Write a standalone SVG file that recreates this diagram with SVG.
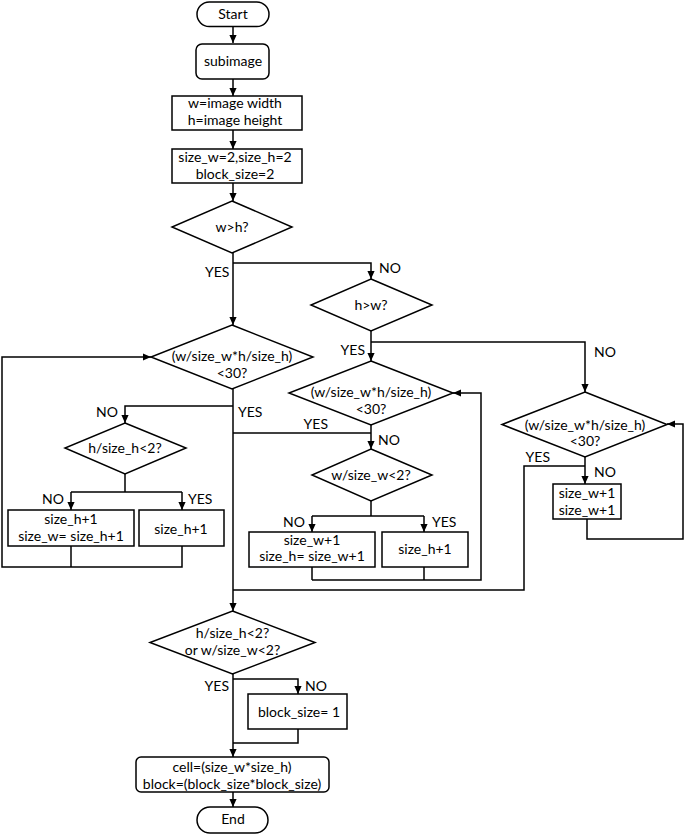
<svg xmlns="http://www.w3.org/2000/svg" width="685" height="834" viewBox="0 0 685 834">
<style>
.s{fill:#fff;stroke:#000;stroke-width:1.5}
.c{fill:none;stroke:#000;stroke-width:1.5}
text{font-family:Lato,"Liberation Sans",sans-serif;font-size:14px;fill:#000}
.m{text-anchor:middle}
.e{text-anchor:end}
</style>
<defs>
<marker id="ah" viewBox="0 0 10 10" refX="10" refY="5" markerWidth="8" markerHeight="8" markerUnits="userSpaceOnUse" orient="auto"><path d="M0,0.5 L10,5 L0,9.5 z" fill="#000"/></marker>
</defs>
<rect width="685" height="834" fill="#fff"/>
<g id="connectors">
<path class="c" d="M233,26 V43" marker-end="url(#ah)"/>
<path class="c" d="M233,79 V96" marker-end="url(#ah)"/>
<path class="c" d="M233,130 V149" marker-end="url(#ah)"/>
<path class="c" d="M233,183 V201" marker-end="url(#ah)"/>
<path class="c" d="M233,253 V325" marker-end="url(#ah)"/>
<path class="c" d="M233,263 H371 V279" marker-end="url(#ah)"/>
<path class="c" d="M371,330 V361" marker-end="url(#ah)"/>
<path class="c" d="M371,342 H585 V392" marker-end="url(#ah)"/>
<path class="c" d="M233,389 V611" marker-end="url(#ah)"/>
<path class="c" d="M233,406 H125 V423" marker-end="url(#ah)"/>
<path class="c" d="M125,474 V492 M71,492 H182"/>
<path class="c" d="M71,492 V510" marker-end="url(#ah)"/>
<path class="c" d="M182,492 V510" marker-end="url(#ah)"/>
<path class="c" d="M71,546 V567"/>
<path class="c" d="M182,546 V567 H2 V357 H151" marker-end="url(#ah)"/>
<path class="c" d="M371,433 H233"/>
<path class="c" d="M371,425 V449" marker-end="url(#ah)"/>
<path class="c" d="M371,501 V516 M312,516 H424"/>
<path class="c" d="M312,516 V532" marker-end="url(#ah)"/>
<path class="c" d="M424,516 V532" marker-end="url(#ah)"/>
<path class="c" d="M312,567 V580"/>
<path class="c" d="M424,567 V580 M312,580 H481 V393 H453" marker-end="url(#ah)"/>
<path class="c" d="M585,457 V484" marker-end="url(#ah)"/>
<path class="c" d="M585,466 H524 V590 H233"/>
<path class="c" d="M587,519 V539 H683 V424 H667" marker-end="url(#ah)"/>
<path class="c" d="M233,674 V757" marker-end="url(#ah)"/>
<path class="c" d="M233,679 H298 V694" marker-end="url(#ah)"/>
<path class="c" d="M298,729 V743 H233"/>
<path class="c" d="M233,792 V807" marker-end="url(#ah)"/>
<text x="205" y="277">YES</text>
<text x="379" y="273">NO</text>
<text x="118" y="417" class="e">NO</text>
<text x="238" y="417">YES</text>
<text x="64" y="504" class="e">NO</text>
<text x="188" y="504">YES</text>
<text x="365" y="355" class="e">YES</text>
<text x="594" y="357">NO</text>
<text x="328" y="429" class="e">YES</text>
<text x="378" y="445">NO</text>
<text x="305" y="527" class="e">NO</text>
<text x="432" y="527">YES</text>
<text x="550" y="462" class="e">YES</text>
<text x="594" y="477">NO</text>
<text x="229" y="691" class="e">YES</text>
<text x="305" y="691">NO</text>
</g>
<g id="start"><rect class="s" x="197" y="2" width="72" height="24.5" rx="12.25"/><text class="m" x="233" y="19">Start</text></g>
<g id="subimage"><rect class="s" x="196" y="44" width="73" height="35" rx="6"/><text class="m" x="233" y="66">subimage</text></g>
<g id="dims"><rect class="s" x="172" y="96" width="130" height="34"/><text class="m" x="235" y="108">w=image width</text><text class="m" x="235" y="125">h=image height</text></g>
<g id="init"><rect class="s" x="172" y="149" width="130" height="34"/><text class="m" x="235" y="162">size_w=2,size_h=2</text><text class="m" x="235" y="179">block_size=2</text></g>
<g id="d-wh"><polygon class="s" points="232,201 292,227 232,253 172,227"/><text class="m" x="232" y="232">w&gt;h?</text></g>
<g id="d-hw"><polygon class="s" points="371,279 432,305 371,331 311,305"/><text class="m" x="371" y="310">h&gt;w?</text></g>
<g id="d-left"><polygon class="s" points="232,325 313,357 232,389 151,357"/><text class="m" x="232" y="361">(w/size_w*h/size_h)</text><text class="m" x="232" y="378">&lt;30?</text></g>
<g id="d-left2"><polygon class="s" points="125,423 186,448 125,474 65,448"/><text class="m" x="125" y="453">h/size_h&lt;2?</text></g>
<g id="box1"><rect class="s" x="8" y="510" width="126" height="36"/><text class="m" x="71" y="524">size_h+1</text><text class="m" x="71" y="541">size_w= size_h+1</text></g>
<g id="box2"><rect class="s" x="139" y="510" width="85" height="36"/><text class="m" x="181" y="534">size_h+1</text></g>
<g id="d-mid"><polygon class="s" points="371,361 453,393 371,425 289,393"/><text class="m" x="371" y="397">(w/size_w*h/size_h)</text><text class="m" x="371" y="414">&lt;30?</text></g>
<g id="d-mid2"><polygon class="s" points="371,449 432,475 371,501 312,475"/><text class="m" x="371" y="480">w/size_w&lt;2?</text></g>
<g id="box3"><rect class="s" x="249" y="532" width="126" height="35"/><text class="m" x="312" y="545">size_w+1</text><text class="m" x="312" y="561">size_h= size_w+1</text></g>
<g id="box4"><rect class="s" x="382" y="532" width="86" height="35"/><text class="m" x="425" y="554">size_h+1</text></g>
<g id="d-right"><polygon class="s" points="585,392 667,424.5 585,457 502,424.5"/><text class="m" x="585" y="430">(w/size_w*h/size_h)</text><text class="m" x="585" y="446">&lt;30?</text></g>
<g id="box5"><rect class="s" x="553" y="484" width="68" height="35"/><text class="m" x="587" y="498">size_w+1</text><text class="m" x="587" y="515">size_w+1</text></g>
<g id="d-final"><polygon class="s" points="232.5,611 315,642.5 232.5,674 150,642.5"/><text class="m" x="232.5" y="638">h/size_h&lt;2?</text><text class="m" x="232.5" y="655">or w/size_w&lt;2?</text></g>
<g id="block1"><rect class="s" x="248" y="694" width="99" height="35"/><text class="m" x="299" y="717">block_size= 1</text></g>
<g id="result"><rect class="s" x="136" y="757" width="193" height="35" rx="5"/><text class="m" x="232" y="772">cell=(size_w*size_h)</text><text class="m" x="232" y="789">block=(block_size*block_size)</text></g>
<g id="end"><rect class="s" x="197" y="807" width="71" height="26" rx="13"/><text class="m" x="233" y="824">End</text></g>
</svg>
